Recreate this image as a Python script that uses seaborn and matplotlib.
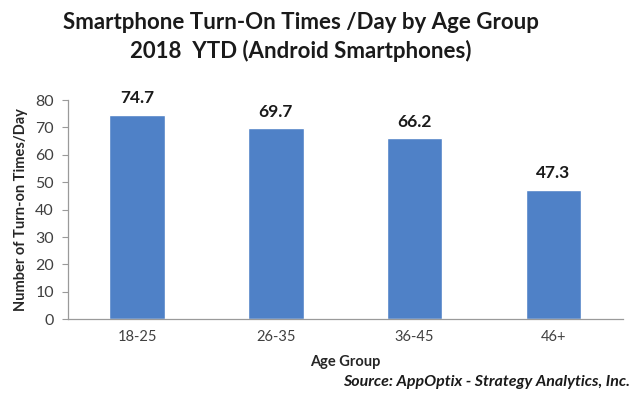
import matplotlib
matplotlib.use("Agg")
import matplotlib.pyplot as plt
import seaborn as sns
import pandas as pd

age_groups = ["18-25", "26-35", "36-45", "46+"]
turn_on_times = [74.7, 69.7, 66.2, 47.3]

sns.set_style("white")
plt.rcParams['font.family'] = ['Lato', 'DejaVu Sans']

df = pd.DataFrame({"age": age_groups, "times": turn_on_times})

fig = plt.figure(figsize=(6.4, 3.97), dpi=100)
ax = fig.add_axes([0.106, 0.196, 0.867, 0.552])

sns.barplot(data=df, x="age", y="times", color="#4F81C7", width=0.4,
            saturation=1, ax=ax)

for i, v in enumerate(turn_on_times):
    ax.text(i, v + 3, f"{v}", ha="center", va="bottom", fontsize=12.5,
            fontweight="bold", color="#1a1a1a")

ax.set_ylim(0, 80)
ax.set_yticks(range(0, 81, 10))
ax.set_xlim(-0.5, 3.5)
ax.set_xticks([-0.5, 0.5, 1.5, 2.5, 3.5], minor=False)
ax.set_xticklabels([])
ax.set_xticks(range(4), minor=True)
ax.set_xticklabels(age_groups, minor=True)
ax.tick_params(axis="x", which="minor", length=0, pad=8, labelsize=10.5, labelcolor="#404040")
ax.tick_params(axis="x", which="major", length=4, color="#9a9a9a", direction="out")
ax.tick_params(axis="y", length=4, color="#9a9a9a", direction="out", labelsize=11.5,
               labelcolor="#404040", pad=6, left=True)

sns.despine(ax=ax)
for s in ["left", "bottom"]:
    ax.spines[s].set_color("#9a9a9a")
    ax.spines[s].set_linewidth(0.9)

ax.set_xlabel("Age Group", fontsize=10.5, fontweight="bold", labelpad=8)
ax.set_ylabel("Number of Turn-on Times/Day", fontsize=10.5, fontweight="bold", labelpad=5)

fig.text(0.47, 0.943, "Smartphone Turn-On Times /Day by Age Group", ha="center",
         va="center", fontsize=16, fontweight="bold", color="#1a1a1a")
fig.text(0.47, 0.872, "2018  YTD (Android Smartphones)", ha="center",
         va="center", fontsize=16, fontweight="bold", color="#1a1a1a")
fig.text(0.985, 0.038, "Source: AppOptix - Strategy Analytics, Inc.", ha="right",
         va="center", fontsize=11.5, fontweight="bold", fontstyle="italic", color="#1a1a1a")

fig.savefig("out.png", dpi=100)
